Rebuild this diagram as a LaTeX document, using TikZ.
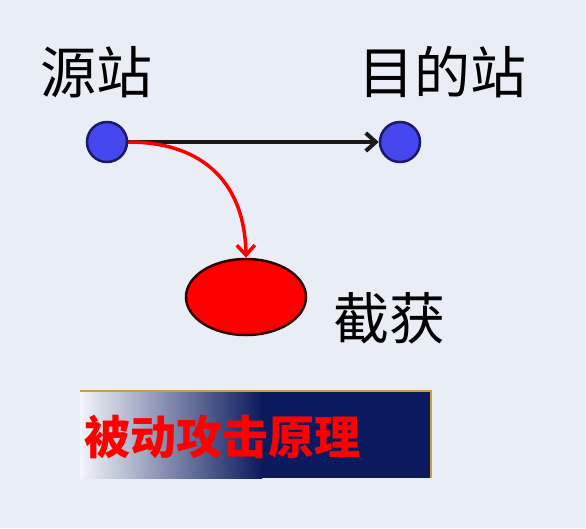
\documentclass[tikz,border=0pt]{standalone}
\usepackage{fontspec}
\usepackage{tikz}
\usetikzlibrary{arrows.meta,shapes.geometric}
\newfontfamily\cjk{Noto Sans CJK SC}
\newfontfamily\cjkbold{Noto Sans CJK SC Black}
\definecolor{bg}{HTML}{E9EEF6}
\definecolor{stationblue}{HTML}{4646EE}
\definecolor{stationedge}{HTML}{1A1A6A}
\definecolor{navy}{HTML}{0B1A5E}
\definecolor{gold}{HTML}{C8A040}

\tikzset{
  station/.style={circle, fill=stationblue, draw=stationedge, line width=2.5pt, minimum size=40pt, inner sep=0pt},
  label/.style={font=\cjk\fontsize{56}{60}\selectfont, inner sep=0pt}
}

\begin{document}
\begin{tikzpicture}[x=1pt,y=-1pt]
      \fill[bg] (0,0) rectangle (586,528);
      \useasboundingbox (0,0) rectangle (586,528);
      % banner
      \shade[left color=bg!60!white, right color=navy] (80,390) rectangle (262,478);
      \fill[navy] (261,390) rectangle (432,478);
      \draw[gold, line width=2pt] (80,391) -- (431,391) -- (431,478);
      \node[font=\cjkbold\fontsize{46}{50}\selectfont, text=red, draw=none, anchor=west, inner sep=0pt] (title) at (84,437) {被动攻击原理};
      % stations
      \node[station] (src) at (107,142) {};
      \node[station] (dst) at (400,142) {};
      \node[ellipse, fill=red, draw=black!80!red, line width=2.5pt, minimum width=120pt, minimum height=76pt] (tap) at (246,297) {};
      \node[label] (srclabel) at (96,72) {源站};
      \node[label] (dstlabel) at (442,72) {目的站};
      \node[label] (taplabel) at (389,318) {截获};
      \draw[-{Straight Barb[length=10pt,width=18pt]}, line width=4pt, black!90] (src.east) -- (dst.west);
      \draw[-{Straight Barb[length=10pt,width=18pt]}, line width=3.5pt, red] (src.east) .. controls (205,142) and (245,185) .. (tap.north);
  \end{tikzpicture}
\end{document}
